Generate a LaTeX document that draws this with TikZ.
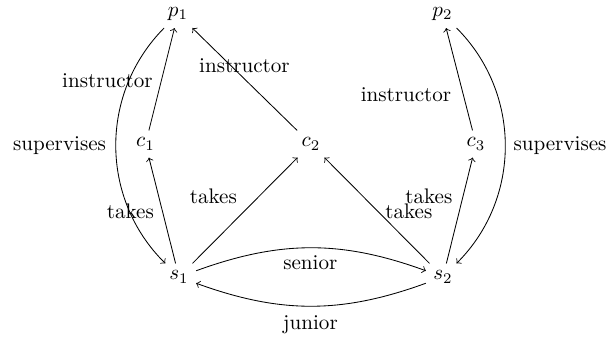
\documentclass[tikz,border=0pt]{standalone}
\begin{document}
\begin{tikzpicture}[x=0.474pt,y=-0.474pt,>=to,
  lbl/.style={inner sep=0pt}]
\useasboundingbox (0,0) rectangle (610,338);
% main nodes
\node (p1) at (178,14) {$p_1$};
\node (p2) at (442.5,14) {$p_2$};
\node (c1) at (145.5,144) {$c_1$};
\node (c2) at (311,144) {$c_2$};
\node (c3) at (476,144) {$c_3$};
\node (s1) at (179,277) {$s_1$};
\node (s2) at (443,277) {$s_2$};
% connectors
\draw[->] (c1) -- (p1);
\draw[->] (c2) -- (p1);
\draw[->] (c3) -- (p2);
\draw[->] (s1) -- (c1);
\draw[->] (s1) -- (c2);
\draw[->] (s2) -- (c2);
\draw[->] (s2) -- (c3);
\draw[->] (p1) to[bend right=45] (s1);
\draw[->] (p2) to[bend left=45] (s2);
\draw[->] (s1) to[bend left=20] (s2);
\draw[->] (s2) to[bend left=20] (s1);
% labels
\node[lbl] (l1) at (107.5,81) {instructor};
\node[lbl] (l2) at (244.5,66) {instructor};
\node[lbl] (l3) at (406,95) {instructor};
\node[lbl] (l4) at (59.5,146) {supervises};
\node[lbl] (l5) at (560,146) {supervises};
\node[lbl] (l6) at (130.3,211) {takes};
\node[lbl] (l7) at (213.3,196) {takes};
\node[lbl] (l8) at (408.8,211) {takes};
\node[lbl] (l9) at (428.8,196) {takes};
\node[lbl] (l10) at (310.3,263) {senior};
\node[lbl] (l11) at (310.5,325) {junior};
\end{tikzpicture}
\end{document}
